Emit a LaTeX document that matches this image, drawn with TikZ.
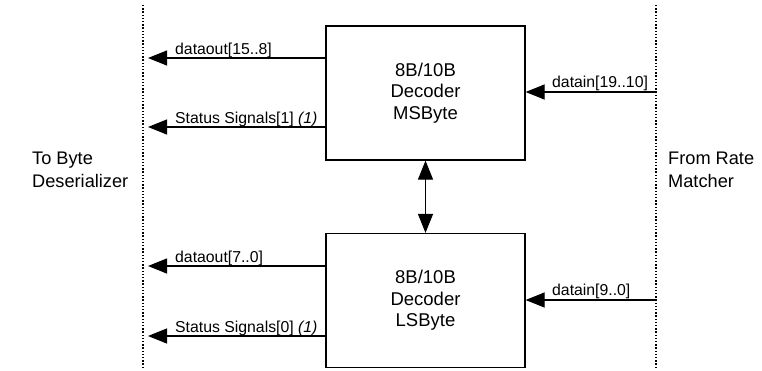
\documentclass[tikz,border=0pt]{standalone}
\usepackage{fontspec}
\setmainfont{Liberation Sans}
\usetikzlibrary{arrows.meta}
\begin{document}
\begin{tikzpicture}[x=1pt,y=-1pt,
  txt/.style={inner sep=0pt,font=\fontsize{15.8}{20}\selectfont},
  side/.style={inner sep=0pt,align=left,font=\fontsize{18.2}{22.5}\selectfont},
  blk/.style={draw,line width=1.2pt,inner sep=0pt,align=center,font=\fontsize{18.5}{21.5}\selectfont,minimum width=199pt,minimum height=134pt},
  sig/.style={line width=1.2pt,-{Triangle[length=19pt,width=15pt]}},
  bus/.style={line width=1.2pt,{Triangle[length=19pt,width=15pt]}-{Triangle[length=19pt,width=15pt]}},
  sep/.style={line width=1.3pt,dash pattern=on 1.3pt off 1.9pt}]
\useasboundingbox (0,0) rectangle (762,370);
% separators
\coordinate (lt) at (143,5); \coordinate (lb) at (143,367);
\coordinate (rt) at (656,5); \coordinate (rb) at (656,367);
\draw[sep] (lt) -- (lb);
\draw[sep] (rt) -- (rb);
% blocks
\node[blk] (msb) at (425.5,93) {8B/10B\\Decoder\\MSByte};
\node[blk] (lsb) at (425.5,300.5) {8B/10B\\Decoder\\LSByte};
\draw[bus] (msb.south) -- (lsb.north);
% side labels
\node[side,anchor=north west] (tolab) at (32,152) {To Byte\\Deserializer};
\node[side,anchor=north west] (fromlab) at (668,152) {From Rate\\Matcher};
% output coordinates
\coordinate (o1) at (148,58);
\coordinate (o2) at (148,127);
\coordinate (o3) at (148,266);
\coordinate (o4) at (148,336);
\draw[sig] (msb.west |- o1) -- (o1);
\draw[sig] (msb.west |- o2) -- (o2);
\draw[sig] (lsb.west |- o3) -- (o3);
\draw[sig] (lsb.west |- o4) -- (o4);
\node[txt,anchor=base west] (l1) at (175,54) {dataout[15..8]};
\node[txt,anchor=base west] (l2) at (175,123) {Status Signals[1] \textit{(1)}};
\node[txt,anchor=base west] (l3) at (175,262) {dataout[7..0]};
\node[txt,anchor=base west] (l4) at (175,332) {Status Signals[0] \textit{(1)}};
% inputs
\coordinate (i1) at (656,92);
\coordinate (i2) at (656,300);
\draw[sig] (i1) -- (msb.east |- i1);
\draw[sig] (i2) -- (lsb.east |- i2);
\node[txt,anchor=base west] (l5) at (552,87) {datain[19..10]};
\node[txt,anchor=base west] (l6) at (552,295) {datain[9..0]};
\end{tikzpicture}
\end{document}
